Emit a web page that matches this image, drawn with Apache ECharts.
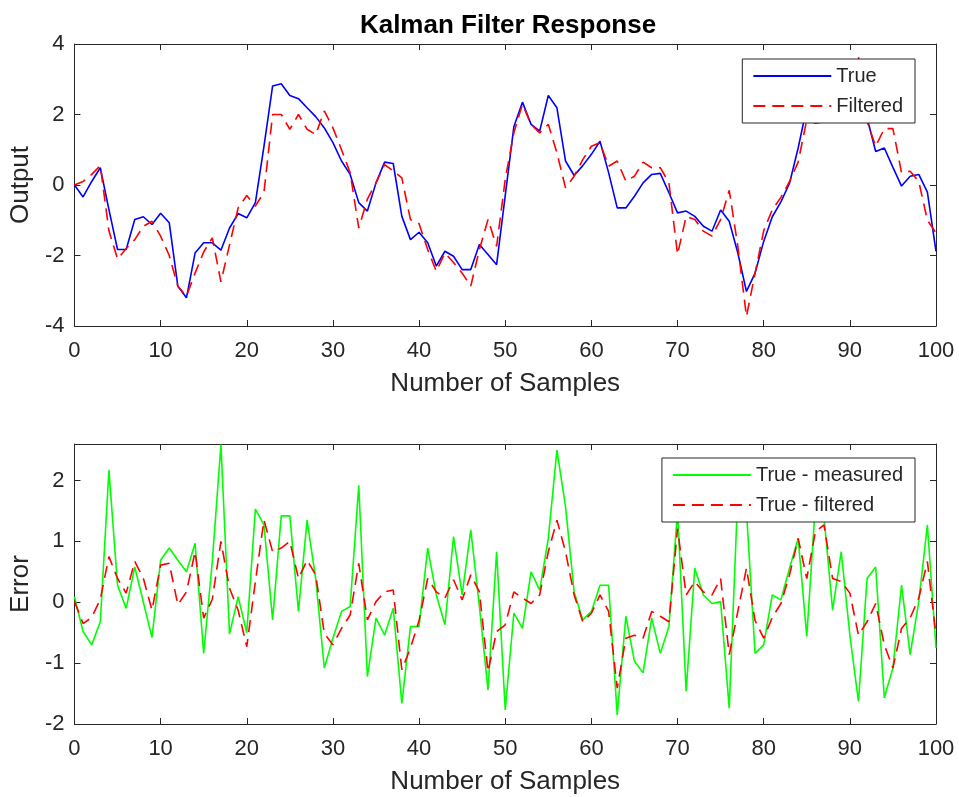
<!DOCTYPE html>
<html>
<head>
<meta charset="utf-8">
<title>Kalman Filter Response</title>
<script src="https://cdn.jsdelivr.net/npm/echarts@6/dist/echarts.min.js"></script>
<style>
  html, body { margin: 0; padding: 0; background: #fff; }
  #chart { width: 959px; height: 797px; }
</style>
</head>
<body>
<div id="chart"></div>
<script>
// sample index 0..100
const samples = Array.from({ length: 101 }, (_, i) => i);

// top plot: output
const trueOut = [
  0, -0.34, 0.1, 0.49, -0.7, -1.83, -1.83, -0.98, -0.9, -1.12,
  -0.8, -1.07, -2.87, -3.2, -1.93, -1.64, -1.64, -1.85, -1.22, -0.81,
  -0.93, -0.5, 1.1, 2.81, 2.87, 2.54, 2.45, 2.19, 1.94, 1.62,
  1.2, 0.68, 0.3, -0.5, -0.74, 0.06, 0.65, 0.61, -0.89, -1.55,
  -1.34, -1.64, -2.3, -1.88, -2.02, -2.4, -2.4, -1.69, -1.97, -2.26,
  -0.3, 1.65, 2.35, 1.72, 1.53, 2.54, 2.19, 0.68, 0.27, 0.55,
  0.87, 1.24, 0.35, -0.65, -0.65, -0.32, 0.06, 0.3, 0.33, -0.22,
  -0.79, -0.74, -0.89, -1.17, -1.31, -0.71, -1.03, -1.93, -3.02, -2.5,
  -1.6, -0.9, -0.48, 0.05, 1.05, 2.2, 2.9, 3.05, 2.2, 2.6,
  2.8, 3.1, 1.9, 0.95, 1.05, 0.5, -0.03, 0.25, 0.3, -0.2,
  -1.88
];
const filteredOut = [
  0, 0.1, 0.3, 0.55, -1.3, -2.1, -1.8, -1.55, -1.17, -1.03,
  -1.45, -2.0, -2.87, -3.15, -2.5, -1.9, -1.5, -2.75, -1.7, -0.65,
  -0.3, -0.6, -0.2, 2.0, 2.0, 1.58, 2.0, 1.58, 1.43, 2.1,
  1.62, 1.0, 0.35, -1.22, -0.4, 0.06, 0.58, 0.4, 0.2, -0.98,
  -1.1, -1.83, -2.45, -1.93, -2.2, -2.5, -2.87, -1.83, -0.98, -1.74,
  0.16, 1.48, 2.29, 1.72, 1.48, 1.72, 0.91, -0.08, 0.25, 0.72,
  1.1, 1.2, 0.53, 0.68, 0.11, 0.25, 0.65, 0.49, 0.49, 0.06,
  -1.97, -0.89, -0.98, -1.31, -1.45, -0.98, -0.15, -1.74, -3.73, -2.5,
  -1.3, -0.7, -0.35, 0.1, 0.65, 1.85, 1.75, 1.8, 1.8, 2.25,
  2.65, 3.65, 1.8, 1.1, 1.6, 1.6, 0.35, 0.39, 0.1, -1.0,
  -1.36
];

// bottom plot: error
const errMeasured = [
  0.09, -0.48, -0.7, -0.32, 2.17, 0.28, -0.1, 0.58, 0.0, -0.58,
  0.69, 0.89, 0.69, 0.5, 0.97, -0.84, 0.67, 2.59, -0.52, 0.09,
  -0.5, 1.53, 1.27, -0.29, 1.42, 1.42, -0.15, 1.35, 0.39, -1.08,
  -0.59, -0.15, -0.07, 1.92, -1.22, -0.26, -0.54, -0.1, -1.66, -0.4,
  -0.4, 0.89, 0.12, -0.37, 1.08, 0.12, 1.19, -0.07, -1.44, 0.83,
  -1.77, -0.18, -0.43, 0.5, 0.2, 1.05, 2.5, 1.57, 0.17, -0.29,
  -0.15, 0.28, 0.28, -1.85, -0.23, -0.97, -1.16, -0.26, -0.84, -0.4,
  1.5, -1.46, 0.56, 0.12, -0.02, 0.01, -1.74, 1.8, 1.5, -0.84,
  -0.7, 0.12, 0.04, 0.56, 1.05, -0.56, 1.6, 1.4, -0.13, 0.83,
  -0.54, -1.63, 0.39, 0.58, -1.57, -1.08, 0.28, -0.86, 0.01, 1.27,
  -0.75
];
const errFiltered = [
  0.01, -0.35, -0.25, 0.05, 0.75, 0.39, 0.15, 0.67, 0.39, -0.13,
  0.61, 0.64, -0.04, 0.17, 0.83, -0.26, 0.05, 1.0, 0.23, -0.13,
  -0.73, 0.34, 1.35, 0.83, 0.89, 1.0, 0.39, 0.69, 0.45, -0.51,
  -0.7, -0.43, -0.21, 0.64, -0.29, 0.01, 0.17, 0.2, -1.11, -0.75,
  -0.3, 0.39, 0.17, 0.07, 0.37, 0.04, 0.45, 0.17, -1.14, -0.48,
  -0.37, 0.17, 0.07, -0.02, 0.12, 0.83, 1.35, 0.83, 0.12, -0.32,
  -0.18, 0.12, -0.15, -1.41, -0.59, -0.54, -0.59, -0.15, -0.23, -0.32,
  1.21, 0.12, 0.34, 0.17, 0.12, 0.39, -0.86, -0.15, 0.56, -0.3,
  -0.59, -0.25, -0.02, 0.45, 1.05, 0.39, 1.16, 1.27, 0.39, 0.34,
  0.15, -0.54, -0.32, -0.02, -0.7, -1.08, -0.43, -0.26, 0.07, 0.67,
  -0.54
];

const FONT = '"Liberation Sans", Arial, Helvetica, sans-serif';
const AX = '#262626';
const pairs = ys => samples.map((x, i) => [x, ys[i]]);

// x axes: bottom with labels, top only for the box
function xAxes(gridIndex) {
  const base = {
    type: 'value', gridIndex, min: 0, max: 100, interval: 10,
    axisLine: { show: true, onZero: false, lineStyle: { color: AX, width: 1 } },
    axisTick: { show: true, inside: true, length: 6, lineStyle: { color: AX } },
    splitLine: { show: false }
  };
  return [
    Object.assign({}, base, {
      position: 'bottom',
      axisLabel: { fontFamily: FONT, fontSize: 22, color: AX, margin: 14 },
      name: 'Number of Samples', nameLocation: 'middle', nameGap: 45,
      nameTextStyle: { fontFamily: FONT, fontSize: 26, color: AX }
    }),
    Object.assign({}, base, { position: 'top', axisLabel: { show: false } })
  ];
}

function yAxes(gridIndex, min, max, interval, name) {
  const base = {
    type: 'value', gridIndex, min, max, interval,
    axisLine: { show: true, onZero: false, lineStyle: { color: AX, width: 1 } },
    axisTick: { show: true, inside: true, length: 6, lineStyle: { color: AX } },
    splitLine: { show: false }
  };
  return [
    Object.assign({}, base, {
      position: 'left',
      axisLabel: { fontFamily: FONT, fontSize: 22, color: AX, margin: 10, showMaxLabel: max % interval === 0 },
      name, nameLocation: 'middle', nameGap: 35,
      nameTextStyle: { fontFamily: FONT, fontSize: 26, color: AX }
    }),
    Object.assign({}, base, { position: 'right', axisLabel: { show: false } })
  ];
}

const legendBase = {
  orient: 'vertical', right: 44,
  backgroundColor: '#fff', borderColor: AX, borderWidth: 1, borderRadius: 0,
  padding: [6, 12, 6, 10], itemGap: 8, itemWidth: 78, itemHeight: 14,
  itemStyle: { opacity: 0 },
  textStyle: { fontFamily: FONT, fontSize: 20, color: AX, lineHeight: 22 },
  selectedMode: false
};

const chart = echarts.init(document.getElementById('chart'), null, { renderer: 'canvas' });
chart.setOption({
  animation: false,
  backgroundColor: '#fff',
  title: {
    text: 'Kalman Filter Response', left: 503, top: 8, textAlign: 'center',
    textStyle: { fontFamily: FONT, fontSize: 26, fontWeight: 'bold', color: '#000' }
  },
  grid: [
    { left: 71, right: 23, top: 44, height: 282 },
    { left: 71, right: 23, top: 444, height: 280 }
  ],
  xAxis: [...xAxes(0), ...xAxes(1)],
  yAxis: [...yAxes(0, -4, 4, 2, 'Output'), ...yAxes(1, -2, 2.6, 1, 'Error')],
  legend: [
    Object.assign({}, legendBase, { top: 59, data: ['True', 'Filtered'] }),
    Object.assign({}, legendBase, { top: 458, data: ['True - measured', 'True - filtered'] })
  ],
  series: [
    { name: 'True', type: 'line', xAxisIndex: 0, yAxisIndex: 0, data: pairs(trueOut),
      symbol: 'none', lineStyle: { color: '#0000ff', width: 1.6 }, itemStyle: { color: '#0000ff' } },
    { name: 'Filtered', type: 'line', xAxisIndex: 0, yAxisIndex: 0, data: pairs(filteredOut),
      symbol: 'none', lineStyle: { color: '#ff0000', width: 1.6, type: [12, 7] }, itemStyle: { color: '#ff0000' } },
    { name: 'True - measured', type: 'line', xAxisIndex: 2, yAxisIndex: 2, data: pairs(errMeasured),
      symbol: 'none', lineStyle: { color: '#00ff00', width: 1.6 }, itemStyle: { color: '#00ff00' } },
    { name: 'True - filtered', type: 'line', xAxisIndex: 2, yAxisIndex: 2, data: pairs(errFiltered),
      symbol: 'none', lineStyle: { color: '#ff0000', width: 1.6, type: [12, 7] }, itemStyle: { color: '#ff0000' } }
  ]
});
</script>
</body>
</html>
